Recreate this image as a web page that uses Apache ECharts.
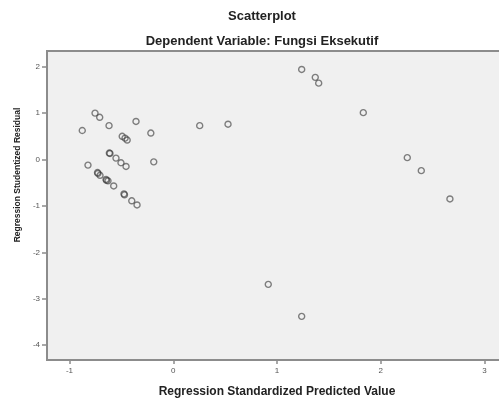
<!DOCTYPE html>
<html>
<head>
<meta charset="utf-8">
<script src="https://cdn.jsdelivr.net/npm/echarts@6/dist/echarts.min.js"></script>
<style>html,body{margin:0;padding:0;background:#fff}#c{width:499px;height:400px}</style>
</head>
<body>
<div id="c"></div>
<script>
var predicted = [-0.877,-0.754,-0.709,-0.619,-0.359,-0.492,-0.465,-0.444,-0.216,-0.188,-0.822,-0.616,-0.610,-0.552,-0.504,-0.455,-0.730,-0.726,-0.706,-0.648,-0.643,-0.629,-0.574,-0.475,-0.470,-0.400,-0.349,0.255,0.528,1.238,1.369,1.402,1.832,2.256,2.391,2.667,0.916,1.238];
var residual  = [0.625,1.00,0.91,0.73,0.82,0.50,0.46,0.42,0.57,-0.05,-0.12,0.14,0.13,0.03,-0.07,-0.15,-0.28,-0.30,-0.34,-0.43,-0.45,-0.46,-0.57,-0.74,-0.76,-0.89,-0.98,0.73,0.76,1.94,1.77,1.645,1.01,0.04,-0.24,-0.85,-2.69,-3.38];
var xTicks = [-1,0,1,2,3];
var yTicks = [-4,-3,-2,-1,0,1,2];
var titleText = 'Scatterplot';
var subTitleText = 'Dependent Variable: Fungsi Eksekutif';
var xName = 'Regression Standardized Predicted Value';
var yName = 'Regression Studentized Residual';

var points = predicted.map(function(v,i){return [v, residual[i]];});
var chart = echarts.init(document.getElementById('c'), null, {renderer:'canvas'});
var tickLabel = {fontSize: 8, color: '#555', fontFamily: 'Liberation Sans, Arial, sans-serif'};
var boldFont = 'Liberation Sans, Arial, sans-serif';
chart.setOption({
  animation: false,
  title: [
    {text: titleText, left: 257, top: 5, textAlign: 'center',
     textStyle: {fontSize: 13, fontWeight: 'bold', color: '#222', fontFamily: boldFont}},
    {text: subTitleText, left: 257, top: 30, textAlign: 'center',
     textStyle: {fontSize: 13, fontWeight: 'bold', color: '#222', fontFamily: boldFont}}
  ],
  grid: {left: 47, top: 51, right: -3, bottom: 40, show: true, backgroundColor: '#f0f0f0',
         borderColor: '#8c8c8c', borderWidth: 2, containLabel: false, outerBoundsMode: 'none'},
  xAxis: {
    type: 'value', min: -1.217, max: 3.169,
    name: xName, nameLocation: 'middle', nameGap: 26,
    nameTextStyle: {fontSize: 12, fontWeight: 'bold', color: '#222', fontFamily: boldFont, padding: [0, 0, 0, 5]},
    axisLine: {show: true, onZero: false, lineStyle: {color: '#8c8c8c', width: 2}},
    axisTick: {show: true, length: 4, customValues: xTicks, lineStyle: {color: '#8c8c8c', width: 1.5}},
    axisLabel: Object.assign({customValues: xTicks, margin: 7}, tickLabel),
    splitLine: {show: false}
  },
  yAxis: {
    type: 'value', min: -4.32, max: 2.338,
    axisLine: {show: true, onZero: false, lineStyle: {color: '#8c8c8c', width: 2}},
    axisTick: {show: true, length: 5, customValues: yTicks, lineStyle: {color: '#8c8c8c', width: 1.5}},
    axisLabel: Object.assign({customValues: yTicks, margin: 7}, tickLabel),
    splitLine: {show: false}
  },
  graphic: [{
    type: 'text', x: 18, y: 175, rotation: Math.PI/2,
    style: {text: yName, textAlign: 'center', textVerticalAlign: 'middle',
            font: 'bold 8.5px "Liberation Sans Narrow", "Liberation Sans", Arial, sans-serif', fill: '#222'}
  }],
  series: [{
    type: 'scatter', data: points, symbol: 'circle', symbolSize: 6,
    itemStyle: {color: 'rgba(0,0,0,0)', borderColor: 'rgba(60,60,60,0.8)', borderWidth: 1.4},
    emphasis: {disabled: true}
  }]
});
</script>
</body>
</html>
